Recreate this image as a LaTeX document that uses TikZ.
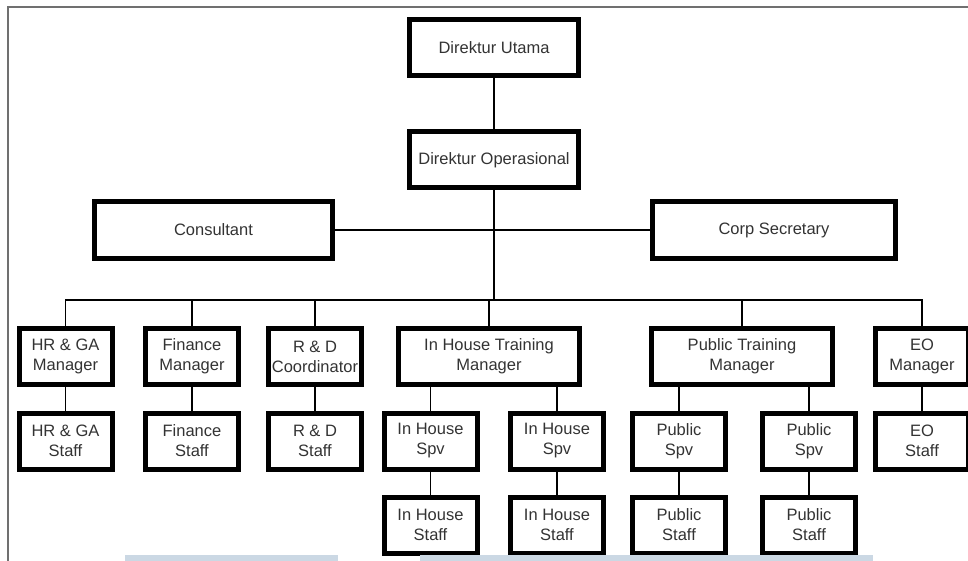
\documentclass[tikz,border=0pt]{standalone}
\usepackage{fontspec}
\setmainfont{Liberation Sans}
\definecolor{txt}{HTML}{333333}
\definecolor{frm}{HTML}{707070}
\definecolor{barc}{HTML}{CBD8E4}
\tikzset{
  box/.style={draw=black, line width=5pt, inner sep=0pt, align=center,
    minimum height=56pt, text=txt, font=\fontsize{16.5pt}{20pt}\selectfont},
  unit/.style={box, minimum width=93pt},
  wide/.style={box, minimum width=181pt},
  link/.style={line width=1.6pt},
  frame/.style={frm, line width=2pt},
}
\begin{document}
\begin{tikzpicture}[x=1pt,y=-1pt]
  \useasboundingbox (0,0) rectangle (968,561);
  \draw[frame] (8,561) -- (8,7) -- (968,7);
  % directors
  \node[box, minimum width=169pt] (du) at (494,47.5) {Direktur Utama};
  \node[box, minimum width=169pt] (dop) at (494,160) {Direktur Operasional};
  \node[box, minimum width=238pt] (cons) at (213.5,230) {Consultant};
  \node[box, minimum width=243pt] (csec) at (774,230) {Corp Secretary};
  \coordinate (bus) at (0,300);
  % managers
  \node[unit] (hrm) at (65.5,356.5) {HR \& GA\\Manager};
  \node[unit] (finm) at (192,356.5) {Finance\\Manager};
  \node[unit] (rdm) at (315,356.5) {R \& D\\Coordinator};
  \node[wide] (ihm) at (489,356.5) {In House Training\\Manager};
  \node[wide] (pubm) at (742,356.5) {Public Training\\Manager};
  \node[unit] (eom) at (922,356.5) {EO\\Manager};
  % staff and spv
  \node[unit] (hrs) at (65.5,441) {HR \& GA\\Staff};
  \node[unit] (fins) at (192,441) {Finance\\Staff};
  \node[unit] (rds) at (315,441) {R \& D\\Staff};
  \node[unit] (ihv1) at (430.5,441) {In House\\Spv};
  \node[unit] (ihv2) at (557,441) {In House\\Spv};
  \node[unit] (pubv1) at (679,441) {Public\\Spv};
  \node[unit] (pubv2) at (809,441) {Public\\Spv};
  \node[unit] (eos) at (922,441) {EO\\Staff};
  \node[unit] (ihs1) at (430.5,525) {In House\\Staff};
  \node[unit] (ihs2) at (557,525) {In House\\Staff};
  \node[unit] (pubs1) at (679,525) {Public\\Staff};
  \node[unit] (pubs2) at (809,525) {Public\\Staff};
  % connectors
  \draw[link] (du) -- (dop);
  \draw[link] (cons) -- (csec);
  \draw[link] (dop) -- (dop |- bus);
  \draw[link] (hrm.north) |- (bus -| eom) -- (eom.north);
  \foreach \m in {finm,rdm,ihm,pubm} \draw[link] (\m) -- (\m |- bus);
  \foreach \a/\b in {hrm/hrs,finm/fins,rdm/rds,eom/eos,ihv1/ihs1,ihv2/ihs2,pubv1/pubs1,pubv2/pubs2}
    \draw[link] (\a) -- (\b);
  \foreach \a/\b in {ihm/ihv1,ihm/ihv2,pubm/pubv1,pubm/pubv2}
    \draw[link] (\b) -- (\b |- \a.south);
  % bottom strips
  \fill[barc] (125,555) rectangle (338,561);
  \fill[barc] (420,555) rectangle (873,561);
\end{tikzpicture}
\end{document}
